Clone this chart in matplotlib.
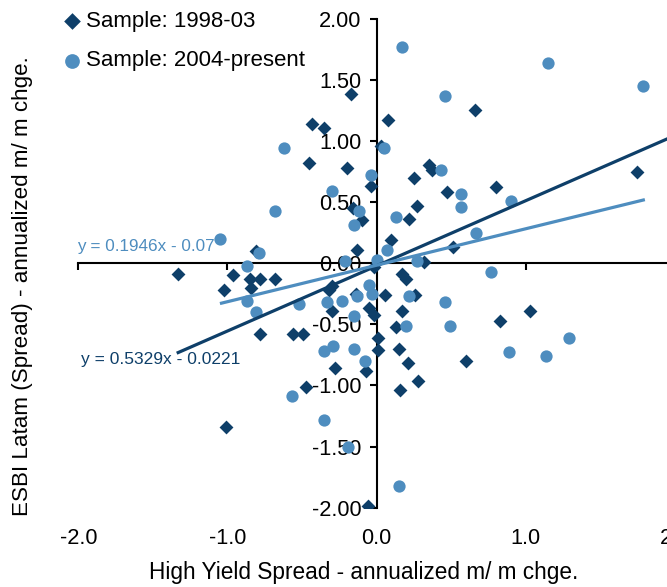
import matplotlib
matplotlib.use("Agg")
import matplotlib.pyplot as plt
import numpy as np

plt.rcParams['font.family'] = ['Liberation Sans', 'DejaVu Sans']

# ---- data ----
hy_9803 = [-1.33, -1.01, -1.02, -0.96, -0.85, -0.78, -0.68, -0.84, -0.81, -0.78,
           -0.56, -0.49, -0.47, -0.30, -0.32, -0.30, -0.28, -0.43, -0.35, -0.45,
           -0.20, -0.17, -0.13, -0.16, -0.10, -0.04, 0.03, 0.08, -0.14, -0.05,
           -0.02, 0.01, 0.01, -0.06, -0.07, -0.02, 0.06, 0.10, 0.17, 0.20,
           0.26, 0.13, 0.17, 0.15, 0.21, 0.28, 0.16, 0.22, 0.27, 0.25,
           0.35, 0.37, 0.47, 0.32, 0.51, 0.80, 0.66, 1.75, 0.60, 0.83, 1.03]
esbi_9803 = [-0.09, -1.34, -0.22, -0.10, -0.13, -0.13, -0.13, -0.20, 0.10, -0.58,
             -0.58, -0.58, -1.01, -0.19, -0.22, -0.39, -0.86, 1.14, 1.11, 0.82,
             0.78, 1.38, 0.11, 0.45, 0.35, 0.63, 0.96, 1.17, -0.25, -0.37,
             -0.42, -0.61, -0.71, -1.99, -0.88, -0.03, -0.26, 0.19, -0.09, -0.13,
             -0.26, -0.52, -0.39, -0.70, -0.82, -0.96, -1.04, 0.36, 0.47, 0.70,
             0.80, 0.76, 0.58, 0.01, 0.13, 0.62, 1.25, 0.75, -0.80, -0.47, -0.39]

hy_04 = [0.17, 1.15, 1.79, 0.46, -0.62, 0.05, -0.04, 0.43, -0.30, 0.57,
         0.57, 0.90, -0.68, -0.12, -0.15, 0.13, -1.05, -0.79, -0.87, 0.00,
         0.07, 0.67, 0.27, -0.21, 0.77, -0.05, -0.03, -0.13, -0.23, -0.33,
         -0.52, -0.87, -0.81, -0.15, 0.22, 0.20, 0.46, 0.49, -0.29, -0.35,
         -0.15, -0.08, -0.57, -0.35, -0.19, 0.15, 0.89, 1.14, 1.29]
esbi_04 = [1.77, 1.64, 1.45, 1.37, 0.94, 0.94, 0.72, 0.76, 0.59, 0.57,
           0.46, 0.51, 0.43, 0.43, 0.31, 0.38, 0.20, 0.08, -0.02, 0.03,
           0.11, 0.25, 0.02, 0.02, -0.07, -0.18, -0.25, -0.27, -0.31, -0.32,
           -0.33, -0.31, -0.40, -0.43, -0.27, -0.51, -0.32, -0.51, -0.68, -0.72,
           -0.70, -0.80, -1.09, -1.28, -1.50, -1.82, -0.73, -0.76, -0.61]

# trend lines as drawn
trend_9803_x = [-1.34, 2.0]
trend_9803_slope, trend_9803_icpt = 0.5329, -0.0221
trend_04_x = [-1.05, 1.80]
trend_04_y = [-0.33, 0.52]

eq_9803 = "y = 0.5329x - 0.0221"
eq_04 = "y = 0.1946x - 0.07"

legend_labels = ["Sample: 1998-03", "Sample: 2004-present"]
xticks = [-2.0, -1.0, 0.0, 1.0, 2.0]
yticks = [-2.0, -1.5, -1.0, -0.5, 0.0, 0.5, 1.0, 1.5, 2.0]
xlabel = "High Yield Spread - annualized m/ m chge."
ylabel = "ESBI Latam (Spread) - annualized m/ m chge."

dark = "#0E3F69"
light = "#4E8DBF"

W, H = 667, 587
fig = plt.figure(figsize=(W / 100, H / 100), dpi=100)
ax = fig.add_axes([78.3 / W, (H - 507.7) / H, 596.4 / W, 489.0 / H])
ax.set_xlim(-2, 2)
ax.set_ylim(-2, 2)

ax.scatter(hy_9803, esbi_9803, marker='D', s=50, color=dark, linewidths=0, zorder=3,
           label=legend_labels[0])
ax.scatter(hy_04, esbi_04, marker='o', s=78, color=light, linewidths=0, zorder=4,
           label=legend_labels[1])

tx = np.array(trend_9803_x)
ax.plot(tx, trend_9803_slope * tx + trend_9803_icpt, color=dark, lw=2.3, zorder=5,
        solid_capstyle='butt')
ax.plot(trend_04_x, trend_04_y, color=light, lw=2.3, zorder=5, solid_capstyle='butt')

ax.text(-2.01, 0.14, eq_04, color=light, fontsize=12.3, ha='left', va='center')
ax.text(-1.98, -0.79, eq_9803, color=dark, fontsize=12.5, ha='left', va='center')

# spines through the origin
for s in ['top', 'right']:
    ax.spines[s].set_visible(False)
ax.spines['left'].set_position(('data', 0))
ax.spines['bottom'].set_position(('data', 0))
ax.spines['left'].set_linewidth(1.5)
ax.spines['bottom'].set_linewidth(1.5)
ax.spines['bottom'].set_clip_on(False)

ax.set_yticks(yticks)
ax.set_yticklabels([f"{v:.2f}" for v in yticks])
ax.set_xticks(xticks)
ax.set_xticklabels([f"{v:.1f}" for v in xticks])
ax.tick_params(axis='y', direction='out', length=5, width=1.5, pad=6, labelsize=15.7)
ax.tick_params(axis='x', direction='out', length=5, width=1.5, pad=186, labelsize=15.7)
ax.patch.set_alpha(0)

fig.text(364 / W, 1 - 573 / H, xlabel, ha='center', va='center', fontsize=16.3)
fig.text(23 / W, 1 - 286.5 / H, ylabel, ha='center', va='center', rotation=90, fontsize=16.1)

fig.legend(loc='upper left', bbox_to_anchor=(63 / W, 1 - 11 / H), frameon=False,
           fontsize=16, handlelength=0.8, handletextpad=0.25, labelspacing=0.83,
           borderpad=0, borderaxespad=0, scatterpoints=1, markerscale=1.2)

fig.savefig("out.png", dpi=100)
